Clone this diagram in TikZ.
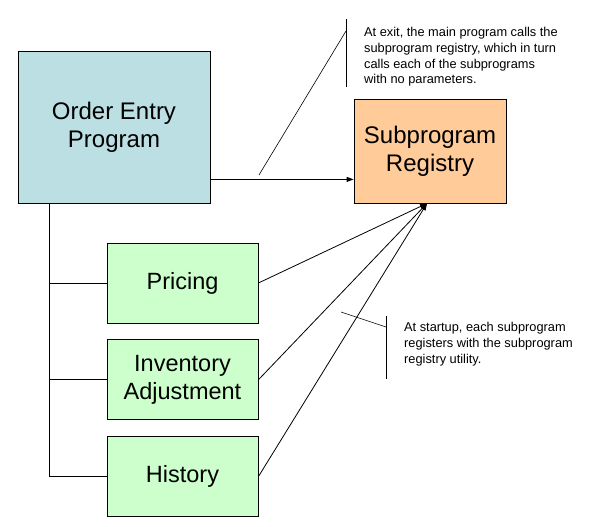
\documentclass[tikz,border=0pt]{standalone}
\usepackage{fontspec}
\setmainfont{Liberation Sans}
\usetikzlibrary{positioning,arrows.meta}

\definecolor{oeblue}{HTML}{BBDFE3}
\definecolor{regorange}{HTML}{FFCC99}
\definecolor{subgreen}{HTML}{CCFFCC}

\tikzset{
  bigbox/.style={draw, line width=0.8pt, minimum width=192pt, minimum height=152pt,
    align=center, font=\fontsize{24}{28}\selectfont},
  regbox/.style={draw, line width=0.8pt, fill=regorange, minimum width=152pt,
    minimum height=104pt, align=center, font=\fontsize{24}{28}\selectfont},
  subbox/.style={draw, line width=0.8pt, fill=subgreen, minimum width=151pt,
    minimum height=80pt, align=center, font=\fontsize{23.5}{28}\selectfont},
  note/.style={align=left, anchor=north west, inner sep=0pt,
    font=\fontsize{12.8}{15.6}\selectfont},
  link/.style={line width=0.8pt, -{Triangle[length=7pt,width=5pt]}},
  wire/.style={line width=0.8pt},
  callout/.style={line width=0.6pt}
}

\begin{document}
\begin{tikzpicture}[x=1pt,y=1pt]
\useasboundingbox (0,0) rectangle (589,-527);

% main boxes
\node[bigbox, fill=oeblue] (oe) at (114,-127) {Order Entry\\Program};
\node[regbox] (reg) at (430,-151) {Subprogram\\Registry};

% subprograms
\node[subbox] (pricing) at (182.5,-283) {Pricing};
\node[subbox, below=16pt of pricing] (inventory) {Inventory\\Adjustment};
\node[subbox, below=16pt of inventory] (history) {History};

% call at exit
\draw[link] ([yshift=24pt]oe.south east) -- ([yshift=24pt]reg.south west);

% tree from main program
\coordinate (trunk) at ([xshift=32pt]oe.south west);
\draw[wire] (trunk) |- (history.west);
\foreach \s in {pricing,inventory}
  \draw[wire] (trunk |- \s.west) -- (\s.west);

% registration
\foreach \s in {pricing,inventory,history}
  \draw[link] (\s.east) -- ([xshift=-3pt]reg.south);

% notes
\coordinate (barA) at (346,-19);
\coordinate (barB) at (346,-87);
\draw[callout] (barA) -- (barB);
\draw[callout] (346,-31) -- (259,-175);
\node[note] (exitnote) at (364,-27.5) {At exit, the main program calls the\\
  subprogram registry, which in turn\\calls each of the subprograms\\with no parameters.};

\draw[callout] (386,-316) -- (386,-379);
\draw[callout] (386,-327) -- (341,-312);
\node[note] (startnote) at (404,-322.5) {At startup, each subprogram\\
  registers with the subprogram\\registry utility.};
\end{tikzpicture}
\end{document}
